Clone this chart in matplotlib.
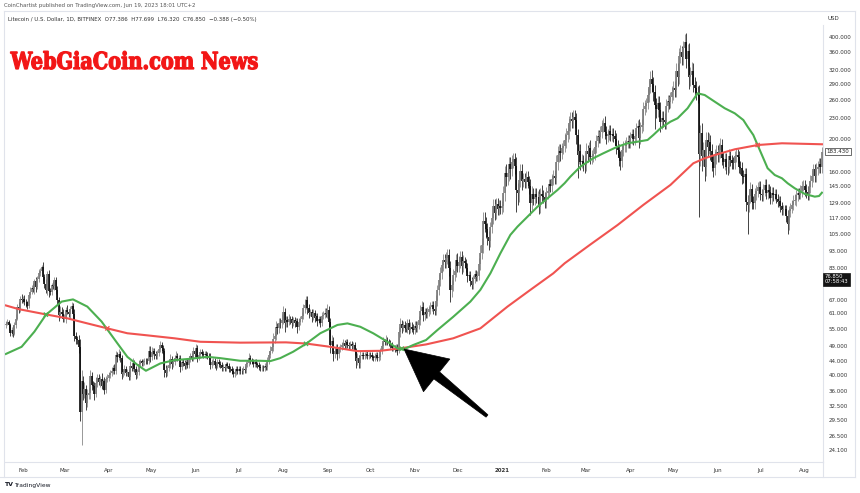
import matplotlib
matplotlib.use("Agg")
import matplotlib.pyplot as plt
import matplotlib.dates as mdates
import matplotlib.transforms as mtransforms
from matplotlib.lines import Line2D
from matplotlib.patches import Polygon, PathPatch
from matplotlib.textpath import TextPath
from matplotlib.font_manager import FontProperties
from matplotlib.ticker import FixedLocator, FixedFormatter, NullLocator
import numpy as np
import pandas as pd

# LTC/USD daily candles (Bitfinex), 2020-01-20 .. 2021-08-13
start_date = "2020-01-20"
first_open = 56.5

close_2020 = [
    56.8, 57.6, 56.2, 53.4, 54.6, 53.2, 56.4, 58.9, 63.8, 62.9, 67.5, 66.8,
    67.2, 66.0, 65.8, 64.1, 69.0, 70.8, 72.6, 71.9, 75.8, 73.0, 77.1, 80.2, 81.6, 83.4, 78.2,
    74.6, 71.5, 79.6, 71.2, 70.6, 73.8, 73.5, 76.5, 71.6, 66.9, 60.4, 61.8, 60.9, 58.8,
    58.9, 62.6, 61.8, 60.9, 63.0, 64.1, 60.6, 52.3, 51.2, 51.0, 48.7, 31.2, 38.4, 35.3, 36.4, 33.2,
    35.1, 35.6, 39.8, 37.4, 37.2, 35.2, 38.1, 39.3, 38.2, 39.0, 37.3, 38.4, 36.3, 39.0, 39.3,
    40.1, 40.8, 41.2, 42.0, 41.1, 45.9, 45.3, 46.4, 45.1, 40.3, 40.9, 41.8, 40.6, 40.9, 39.7,
    42.8, 42.1, 43.6, 41.8, 40.2, 41.0, 43.1, 44.0, 43.5, 43.8, 44.2, 44.1, 44.0, 47.3, 45.2,
    47.0, 47.4, 46.2, 45.8, 46.7, 47.9, 49.2, 48.1, 47.2, 41.6, 40.8, 42.1, 43.0, 44.8, 43.2, 43.9,
    45.1, 45.8, 44.9, 45.0, 42.3, 43.8, 43.6, 42.6, 43.8, 42.9, 44.8, 45.6, 45.0, 47.1, 46.2,
    48.2, 45.3, 46.1, 47.0, 46.3, 46.0, 46.4, 46.1, 45.8, 45.6, 43.0, 43.9, 44.1, 43.0, 42.8,
    43.9, 43.2, 42.9, 42.1, 42.3, 42.0, 43.1, 42.8, 41.9, 41.8, 41.2, 40.4, 41.0, 41.9, 41.2,
    41.8, 41.3, 41.1, 41.9, 41.4, 43.2, 43.5, 45.1, 44.2, 44.0, 43.3, 43.9, 43.1, 42.9, 42.3, 42.1,
    42.2, 42.0, 42.6, 42.3, 44.1, 46.0, 47.4, 48.6, 51.3, 52.4, 55.6, 55.2, 57.3, 57.0, 58.4,
    61.5, 57.2, 58.3, 57.4, 58.9, 58.6, 57.1, 58.2, 57.3, 58.1, 55.6, 57.4, 58.6, 59.8, 63.2, 64.8,
    66.9, 63.1, 61.0, 61.8, 59.4, 61.2, 59.3, 60.1, 57.8, 58.9, 57.2, 59.8, 60.2, 61.3, 60.8,
    62.4, 57.6, 49.1, 50.6, 46.3, 47.1, 48.0, 46.4, 47.9, 48.6, 49.1, 49.8, 49.0, 50.2, 49.3,
    49.0, 49.6, 48.8, 49.2, 47.3, 44.2, 45.1, 43.4, 45.8, 46.1, 45.6, 45.9, 46.2, 45.7, 46.1,
    46.0, 45.2, 45.1, 45.8, 45.9, 45.1, 45.3, 47.2, 48.9, 50.4, 50.1, 51.0, 50.3, 49.9, 49.2, 48.1,
    48.3, 48.0, 48.7, 47.4, 53.6, 56.8, 55.2, 56.4, 55.3, 54.9, 57.2, 54.6, 55.8, 55.0, 54.6,
    56.1, 55.3, 56.4, 58.2, 62.1, 63.8, 60.2, 61.6, 60.9, 61.8, 62.7, 63.9, 64.6, 62.8, 62.1,
    66.3, 71.4, 76.8, 80.2, 84.6, 87.9, 86.4, 89.2, 90.8, 83.1, 71.6, 73.8, 79.2, 81.4, 87.6,
    84.2, 86.5, 89.7, 84.1, 87.0, 85.9, 83.2, 78.9, 79.3, 76.0, 74.2, 77.1, 79.6, 78.2, 78.8, 85.6,
    92.3, 97.1, 114.5, 112.1, 108.3, 102.6, 99.8, 109.6, 116.4, 126.3, 121.2, 128.4, 124.1, 126.5, 124.8,
]

close_2021 = [
    126.4, 138.2, 158.6, 154.3, 158.1, 168.4, 163.2, 170.5, 174.8, 166.3, 141.2, 138.6, 151.4, 160.2, 149.8, 152.6,
    148.9, 154.2, 149.3, 145.1, 129.6, 137.8, 133.2, 137.4, 134.6, 135.1, 126.2, 137.5, 135.6, 134.3, 130.4,
    138.3, 140.2, 146.8, 145.2, 151.9, 155.4, 153.0, 170.6, 179.4, 184.2, 181.3, 187.6, 190.2, 198.4,
    205.6, 210.3, 222.8, 229.4, 226.1, 231.8, 227.3, 205.2, 179.8, 183.6, 170.4, 172.2, 169.1, 167.3,
    184.6, 180.1, 188.4, 177.2, 178.6, 180.3, 189.2, 196.8, 203.7, 202.4, 210.1, 218.6, 222.3, 209.8, 203.9, 206.2,
    211.7, 205.3, 206.9, 204.6, 199.8, 190.4, 185.9, 175.3, 171.6, 185.7, 189.9, 190.3, 195.2, 197.4, 196.1,
    201.8, 206.1, 199.2, 204.3, 214.8, 218.2, 200.6, 216.3, 220.4, 244.8, 250.2, 254.6, 269.8, 285.1, 301.3,
    289.6, 274.9, 251.2, 244.6, 255.3, 244.1, 224.8, 230.2, 227.9, 224.6, 249.8, 259.6, 257.8, 265.4, 274.9,
    282.4, 279.1, 318.2, 305.6, 352.3, 361.8, 348.4, 370.2, 387.6, 345.2, 363.4, 305.1, 309.8, 318.2, 289.5, 282.6,
    273.8, 272.1, 180.4, 207.6, 178.3, 185.2, 165.4, 198.3, 189.6, 196.2, 184.1, 170.6, 164.2, 177.5, 182.6,
    179.6, 185.3, 191.8, 176.2, 170.4, 174.8, 165.3, 164.9, 177.6, 172.8, 170.2, 169.8, 177.5, 179.6, 176.8,
    165.2, 163.9, 155.4, 154.8, 157.6, 130.2, 127.6, 135.9, 141.8, 130.4, 129.2, 137.6, 140.3, 143.8, 144.2,
    137.2, 136.8, 141.3, 146.1, 138.4, 141.2, 139.3, 133.8, 138.2, 136.1, 137.9, 133.2, 129.8, 131.4, 126.3, 122.9,
    124.1, 123.8, 118.2, 112.4, 122.1, 124.3, 127.2, 131.4, 132.3, 136.2, 138.1, 136.9, 140.2, 144.8, 145.3,
    141.2, 139.6, 137.3, 144.1, 150.2, 155.3, 162.4, 155.1, 163.2, 165.4, 168.3, 165.1, 183.4,
]

# wick length beyond the body, in percent (upper / lower)
wick_up_2020 = [
    2, 2, 1, 2, 2, 3, 2, 3, 2, 3, 2, 3,
    2, 3, 2, 1, 2, 3, 2, 3, 2, 3, 2, 3, 2, 2, 4, 2, 3, 2, 3, 2, 2, 3, 2, 2, 3, 2, 4, 3, 3,
    3, 2, 3, 2, 2, 3, 2, 4, 3, 2, 3, 5, 8, 4, 5, 3, 4, 3, 4, 3, 3, 3, 4, 3, 3, 2, 4, 2, 3, 2, 3,
    2, 2, 3, 2, 3, 3, 2, 3, 2, 2, 2, 3, 2, 2, 2, 3, 2, 3, 2, 2, 2, 3, 2, 2, 2, 2, 2, 2, 3, 3,
    3, 2, 2, 2, 2, 3, 3, 2, 2, 2, 3, 2, 2, 3, 2, 2, 2, 3, 2, 2, 2, 2, 2, 2, 2, 2, 2, 2, 2, 3, 2,
    3, 2, 2, 2, 2, 2, 2, 2, 2, 2, 2, 2, 2, 2, 2, 2, 2, 2, 2, 2, 2, 2, 2, 2, 2, 2, 2, 2, 2, 2,
    2, 2, 2, 2, 2, 2, 2, 3, 2, 2, 2, 2, 2, 2, 2, 2, 2, 2, 2, 2, 3, 3, 3, 3, 4, 3, 4, 3, 3, 3, 4,
    4, 3, 3, 3, 3, 2, 2, 2, 2, 2, 2, 3, 2, 3, 3, 4, 3, 3, 3, 2, 2, 3, 2, 2, 2, 2, 2, 3, 3, 3, 3,
    4, 3, 3, 4, 3, 3, 3, 3, 2, 2, 2, 3, 2, 2, 2, 2, 2, 2, 2, 2, 2, 3, 2, 3, 2, 2, 2, 2, 2, 2,
    2, 2, 2, 2, 2, 2, 2, 2, 3, 3, 2, 3, 2, 2, 2, 2, 2, 2, 2, 2, 4, 4, 3, 3, 3, 3, 3, 3, 3, 3, 3,
    3, 3, 3, 3, 4, 4, 3, 3, 3, 3, 3, 3, 3, 3, 3, 4, 4, 4, 4, 4, 4, 4, 4, 4, 4, 5, 4, 4, 4, 4,
    5, 4, 4, 4, 4, 3, 3, 3, 3, 3, 3, 3, 3, 3, 3, 4, 5, 5, 6, 6, 5, 4, 4, 4, 4, 5, 5, 4, 4, 4, 4,
]
wick_dn_2020 = [
    2, 1, 3, 2, 2, 2, 1, 2, 1, 3, 2, 2,
    2, 2, 3, 2, 1, 2, 2, 2, 3, 3, 1, 2, 2, 2, 3, 3, 2, 3, 4, 2, 2, 2, 3, 3, 3, 4, 2, 3, 2,
    2, 3, 2, 2, 3, 2, 4, 3, 3, 3, 4, 6, 20, 4, 3, 5, 3, 3, 4, 3, 2, 4, 2, 3, 2, 3, 2, 3, 3, 2, 2,
    2, 2, 2, 2, 2, 2, 3, 2, 3, 3, 2, 2, 2, 2, 2, 2, 2, 2, 2, 3, 2, 2, 2, 2, 2, 2, 2, 2, 2, 3,
    2, 2, 3, 2, 2, 2, 2, 3, 2, 5, 3, 2, 2, 2, 3, 2, 2, 2, 2, 2, 3, 2, 2, 2, 2, 2, 2, 2, 2, 2, 2,
    2, 3, 2, 2, 2, 2, 2, 2, 2, 2, 3, 2, 2, 2, 3, 2, 2, 2, 2, 2, 2, 2, 2, 2, 2, 2, 2, 2, 2, 2,
    2, 2, 2, 2, 2, 2, 2, 2, 2, 2, 2, 2, 2, 2, 2, 2, 2, 2, 2, 2, 2, 2, 2, 2, 3, 3, 3, 4, 3, 3, 3,
    3, 6, 3, 3, 2, 3, 3, 2, 3, 2, 4, 2, 2, 2, 2, 3, 3, 4, 3, 2, 3, 2, 3, 2, 3, 2, 3, 2, 2, 2, 2,
    3, 4, 5, 4, 5, 3, 2, 4, 3, 2, 2, 2, 2, 2, 2, 2, 2, 2, 2, 3, 5, 3, 3, 3, 2, 2, 2, 2, 2, 2,
    2, 2, 2, 2, 2, 2, 2, 2, 2, 2, 2, 2, 2, 2, 2, 2, 2, 2, 2, 3, 2, 3, 3, 2, 3, 2, 3, 3, 2, 2, 3,
    3, 3, 3, 3, 3, 3, 4, 3, 3, 3, 3, 3, 3, 3, 3, 3, 3, 3, 4, 4, 4, 4, 4, 4, 5, 8, 5, 4, 4, 4,
    4, 4, 4, 5, 4, 3, 3, 4, 3, 3, 3, 3, 3, 3, 3, 3, 4, 4, 5, 5, 6, 5, 6, 4, 4, 4, 5, 4, 4, 4, 4,
]
wick_up_2021 = [
    4, 5, 5, 6, 4, 5, 5, 5, 4, 4, 6, 5, 6, 5, 5, 4, 4, 4, 4, 4, 5, 5, 4, 4, 4, 4, 5, 4, 6, 4, 4,
    4, 4, 4, 4, 4, 4, 4, 5, 6, 5, 5, 4, 4, 5, 5, 5, 5, 5, 5, 5, 5, 5, 4, 5, 5, 5, 4, 4,
    5, 4, 4, 5, 4, 4, 4, 4, 4, 4, 4, 4, 4, 5, 4, 4, 4, 4, 4, 4, 4, 4, 4, 4, 5, 4, 4, 4, 4, 4, 4,
    4, 4, 4, 4, 4, 4, 5, 4, 4, 5, 4, 4, 5, 5, 5, 6, 5, 5, 5, 5, 5, 5, 5, 5, 5, 5, 4, 4, 4, 4,
    5, 5, 5, 5, 5, 5, 4, 5, 5, 6, 5, 6, 5, 6, 5, 5, 5, 5, 6, 6, 7, 6, 6, 6, 6, 6, 5, 5, 5, 5, 5,
    5, 5, 5, 4, 4, 4, 4, 4, 5, 4, 4, 4, 4, 4, 4, 4, 4, 4, 4, 4, 4, 5, 5, 5, 4, 4, 4, 4, 4, 4,
    4, 4, 4, 4, 4, 4, 4, 4, 4, 4, 3, 3, 3, 3, 3, 3, 3, 3, 3, 4, 4, 4, 4, 4, 4, 4, 4, 4, 4, 4, 4,
    4, 4, 4, 4, 4, 4, 4, 4, 4, 4, 4, 4, 3,
]
wick_dn_2021 = [
    4, 4, 5, 6, 5, 5, 7, 5, 4, 5, 14, 8, 6, 5, 6, 4, 4, 4, 4, 5, 8, 5, 4, 4, 4, 4, 5, 4, 4, 4, 4,
    4, 4, 4, 4, 4, 4, 4, 4, 5, 5, 5, 4, 4, 4, 5, 5, 5, 5, 5, 5, 5, 6, 15, 6, 5, 4, 5, 5,
    4, 5, 4, 5, 5, 4, 4, 4, 4, 4, 4, 4, 4, 5, 5, 4, 4, 4, 4, 4, 4, 5, 4, 5, 6, 4, 4, 4, 4, 4, 4,
    4, 4, 4, 4, 4, 4, 6, 4, 4, 4, 4, 4, 4, 5, 4, 5, 6, 15, 6, 5, 5, 7, 5, 5, 5, 5, 4, 5, 4, 4,
    5, 5, 5, 6, 5, 5, 5, 5, 5, 6, 5, 8, 6, 6, 5, 5, 5, 6, 35, 8, 10, 7, 9, 6, 6, 5, 6, 6, 6, 5, 5,
    5, 5, 5, 5, 4, 5, 5, 5, 4, 4, 4, 4, 4, 4, 4, 4, 4, 5, 4, 4, 6, 18, 5, 5, 5, 4, 4, 4, 4, 4,
    4, 4, 4, 4, 4, 4, 4, 4, 4, 4, 3, 3, 3, 3, 4, 3, 3, 3, 4, 7, 4, 4, 3, 3, 3, 4, 4, 3, 3, 4, 3,
    4, 4, 4, 4, 4, 4, 4, 4, 4, 4, 4, 4, 4,
]

# 50-day (green) and 200-day (red) moving averages, read at sample dates
green_dates = [
    "2020-01-20", "2020-01-31", "2020-02-09", "2020-02-17", "2020-02-28", "2020-03-07", "2020-03-17",
    "2020-03-27", "2020-04-07", "2020-04-14", "2020-04-21", "2020-04-27", "2020-05-07", "2020-05-17",
    "2020-05-28", "2020-06-09", "2020-06-18", "2020-07-02", "2020-07-16", "2020-07-23", "2020-07-30",
    "2020-08-08", "2020-08-17", "2020-08-27", "2020-09-08", "2020-09-15", "2020-09-24", "2020-10-03",
    "2020-10-13", "2020-10-20", "2020-10-24", "2020-10-31", "2020-11-09", "2020-11-17", "2020-11-28",
    "2020-12-10", "2020-12-17", "2020-12-24", "2020-12-31", "2021-01-07", "2021-01-12", "2021-01-19",
    "2021-01-26", "2021-02-02", "2021-02-09", "2021-02-14", "2021-02-18", "2021-02-25", "2021-03-06",
    "2021-03-13", "2021-03-23", "2021-03-30", "2021-04-06", "2021-04-13", "2021-04-17", "2021-04-22",
    "2021-04-29", "2021-05-04", "2021-05-11", "2021-05-18", "2021-05-23", "2021-05-30", "2021-06-06",
    "2021-06-13", "2021-06-19", "2021-06-22", "2021-06-26", "2021-06-29", "2021-07-03", "2021-07-06",
    "2021-07-11", "2021-07-16", "2021-07-20", "2021-07-25", "2021-08-01", "2021-08-08", "2021-08-11",
    "2021-08-13",
]
green_vals = [
    46.3, 48.6, 53.9, 60.4, 66.1, 67.1, 63.9,
    57.7, 49.8, 45.4, 43.0, 41.3, 43.4, 44.4,
    44.8, 45.4, 45.0, 44.2, 44.2, 44.1, 45.0,
    47.0, 49.6, 53.3, 56.4, 57.0, 55.7, 53.3,
    50.3, 48.1, 47.7, 49.2, 50.9, 54.5, 59.6,
    66.1, 71.6, 80.1, 91.8, 104.1, 110.1, 117.8,
    126.1, 133.5, 141.3, 148.0, 154.7, 165.6, 175.3,
    181.3, 189.7, 194.1, 196.2, 198.5, 205.3, 214.9,
    224.8, 230.1, 246.3, 272.7, 269.5, 257.6, 246.3,
    238.0, 227.4, 217.3, 205.3, 191.8, 175.3, 163.8,
    156.4, 153.0, 147.9, 142.9, 137.5, 135.0, 135.6,
    138.7,
]
red_dates = [
    "2020-01-20", "2020-01-29", "2020-02-17", "2020-03-03", "2020-03-17", "2020-03-31", "2020-04-14",
    "2020-04-27", "2020-05-17", "2020-06-04", "2020-07-02", "2020-08-03", "2020-08-17", "2020-09-03",
    "2020-09-22", "2020-10-08", "2020-10-22", "2020-11-09", "2020-11-28", "2020-12-17", "2021-01-05",
    "2021-01-21", "2021-02-06", "2021-02-14", "2021-03-04", "2021-03-23", "2021-04-10", "2021-04-29",
    "2021-05-15", "2021-05-23", "2021-05-30", "2021-06-13", "2021-06-29", "2021-07-16", "2021-08-13",
]
red_vals = [
    64.4, 62.8, 60.6, 59.0, 57.0, 55.1, 53.3,
    52.6, 51.5, 50.3, 50.0, 50.1, 49.7, 48.6,
    47.2, 47.3, 48.1, 49.4, 51.5, 55.1, 63.9,
    71.6, 80.1, 85.8, 97.5, 111.3, 127.6, 146.2,
    169.4, 175.3, 179.2, 186.3, 191.8, 194.1, 192.8,
]

# crossover marks drawn by the chart
cross_dates = ["2020-02-17", "2020-03-31", "2020-08-17", "2020-10-23", "2021-06-29"]
cross_vals = [60.5, 55.1, 49.6, 48.0, 191.8]
cross_colors = ["#4caf50", "#f05350", "#4caf50", "#4caf50", "#f05350"]

price_ticks = [400, 360, 320, 290, 260, 230, 200, 160, 145, 129, 117, 105, 93, 83,
               67, 61, 55, 49, 44, 40, 36, 32.5, 29.5, 26.5, 24.1]
month_labels = ["Feb", "Mar", "Apr", "May", "Jun", "Jul", "Aug", "Sep", "Oct", "Nov", "Dec",
                "2021", "Feb", "Mar", "Apr", "May", "Jun", "Jul", "Aug"]

last_value = 183.43
current_price = 76.85

# ---- build candles ----
close = np.array(close_2020 + close_2021)
wick_up = np.array(wick_up_2020 + wick_up_2021)
wick_dn = np.array(wick_dn_2020 + wick_dn_2021)
dates = pd.date_range(start_date, periods=len(close), freq="D")
x = mdates.date2num(dates)
opn = np.r_[first_open, close[:-1]]
top = np.maximum(opn, close)
bot = np.minimum(opn, close)
high = top * (1 + wick_up / 100)
low = bot * (1 - wick_dn / 100)
rising = close >= opn

W, H = 860, 493
fig = plt.figure(figsize=(W / 100, H / 100), dpi=100)
fig.patch.set_facecolor("white")
ax = fig.add_axes([5 / W, 1 - 462 / H, (823 - 5) / W, (462 - 25) / H])

up_col, dn_col = "#7d7d7d", "#101010"
cols = np.where(rising, up_col, dn_col)
ax.vlines(x, low, high, colors=cols, linewidth=0.55)
ax.vlines(x, bot, top, colors=cols, linewidth=1.25)

# moving averages
ax.plot(mdates.date2num(pd.to_datetime(red_dates)), red_vals, color="#f05350", lw=1.5, zorder=3)
ax.plot(mdates.date2num(pd.to_datetime(green_dates)), green_vals, color="#4caf50", lw=1.5, zorder=4)
ax.scatter(mdates.date2num(pd.to_datetime(cross_dates)), cross_vals, marker="x", s=9,
           c=cross_colors, linewidths=1.0, zorder=5)

ax.set_yscale("log")
ax.set_ylim(22.2, 434)
ax.set_xlim(x[0] - 0.6, x[-1] + 0.75)

ax.yaxis.tick_right()
ax.yaxis.set_major_locator(FixedLocator(price_ticks))
ax.yaxis.set_major_formatter(FixedFormatter([f"{v:.3f}" for v in price_ticks]))
ax.yaxis.set_minor_locator(NullLocator())
ax.tick_params(axis="y", length=0, pad=4, labelsize=4.0, labelcolor="#333333")

month_x = mdates.date2num(pd.date_range("2020-02-01", "2021-08-01", freq="MS"))
ax.set_xticks(month_x)
ax.set_xticklabels(month_labels)
ax.tick_params(axis="x", length=0, pad=4.5, labelsize=4.0, labelcolor="#333333")
for lab in ax.get_xticklabels():
    if lab.get_text() == "2021":
        lab.set_fontweight("bold")

for s in ["top", "left"]:
    ax.spines[s].set_visible(False)
for s in ["right", "bottom"]:
    ax.spines[s].set_color("#e0e3eb")
    ax.spines[s].set_linewidth(0.8)

# price labels on the scale
blend = mtransforms.blended_transform_factory(ax.transAxes, ax.transData)
ax.text(1 + 3.5 / 818, last_value, f"{last_value:.3f}", transform=blend, fontsize=4.0,
        va="center", ha="left", color="#222222",
        bbox=dict(boxstyle="square,pad=0.25", fc="white", ec="#333333", lw=0.5))
ax.text(1 + 2 / 818, current_price, f"{current_price:.3f}\n07:58:43", transform=blend,
        fontsize=3.8, va="center", ha="left", color="white", linespacing=1.0,
        bbox=dict(boxstyle="square,pad=0.3", fc="#131313", ec="#131313", lw=0.5))


def px(xp, yp):
    return xp / W, 1 - yp / H


# frame lines
fig.add_artist(Line2D([0, 855 / W], [1 - 477 / H] * 2, color="#e0e3eb", lw=0.8))
fig.add_artist(Line2D([823 / W] * 2, [1 - 477 / H, 1 - 462 / H], color="#e0e3eb", lw=0.8))
fig.add_artist(Line2D([855 / W] * 2, [1 - 477 / H, 1 - 11 / H], color="#e0e3eb", lw=0.8))
fig.add_artist(Line2D([4 / W, 855 / W], [1 - 11 / H] * 2, color="#e0e3eb", lw=0.8))
fig.add_artist(Line2D([4 / W] * 2, [1 - 477 / H, 1 - 11 / H], color="#e0e3eb", lw=0.8))

# header texts
fig.text(*px(4, 5.5), "CoinChartist published on TradingView.com, Jun 19, 2023 18:01 UTC+2",
         fontsize=3.9, color="#555555", va="center", ha="left")
fig.text(*px(8, 19), "Litecoin / U.S. Dollar, 1D, BITFINEX  O77.386  H77.699  L76.320  C76.850  \u22120.388 (\u22120.50%)",
         fontsize=3.9, color="#333333", va="center", ha="left")
fig.text(*px(828, 18), "USD", fontsize=4.0, color="#333333", va="center", ha="left")

# watermark: heavy slab text, squeezed horizontally to the banner's width
wm_path = TextPath((0, 0), "WebGiaCoin.com News", size=23.5,
                   prop=FontProperties(family="DejaVu Serif", weight="bold"))
wm_box = wm_path.get_extents()
sx = 247 / wm_box.width
wm_tf = mtransforms.Affine2D().translate(-wm_box.x0, 0).scale(sx, 1.0).translate(10.5, H - 69)
fig.add_artist(PathPatch(wm_path, transform=wm_tf, fc="#f21616", ec="#f21616", lw=0.9))

# footer logo
fig.text(*px(4, 485), "TV", fontsize=4.5, fontweight="bold", color="#131722", va="center")
fig.text(*px(14, 485), "TradingView", fontsize=4.3, color="#131722", va="center")

# arrow annotation (pixel space)
tail = np.array([487.0, 416.0])
tip = np.array([404.0, 349.0])
d = (tip - tail) / np.hypot(*(tip - tail))
n = np.array([-d[1], d[0]])
base = tip - d * 42
pts = [tail + n * 1.5, base + n * 4.5, base + n * 21, tip, base - n * 21, base - n * 4.5, tail - n * 1.5]
fig.add_artist(Polygon([px(*p) for p in pts], closed=True, transform=fig.transFigure,
                       fc="black", ec="black", lw=0.5))

fig.savefig("out.png", dpi=100)
